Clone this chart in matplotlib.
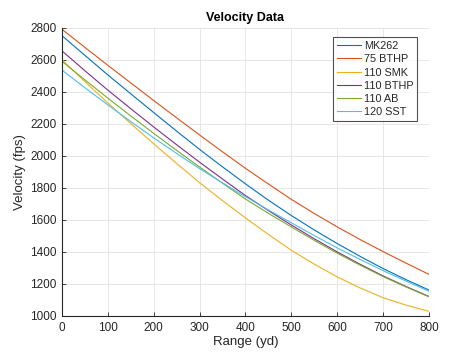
import matplotlib
matplotlib.use("Agg")
import matplotlib.pyplot as plt

plt.rcParams['font.family'] = ['Liberation Sans', 'DejaVu Sans']

range_yd = [0, 50, 100, 150, 200, 250, 300, 350, 400, 450, 500, 550, 600, 650, 700, 750, 800]

mk262 = [2750, 2627, 2505, 2387, 2270, 2154, 2040, 1931, 1825, 1723, 1627, 1537, 1452, 1372, 1296, 1227, 1162]
bthp75 = [2790, 2677, 2565, 2455, 2345, 2237, 2130, 2025, 1922, 1824, 1728, 1640, 1556, 1477, 1402, 1330, 1260]
smk110 = [2600, 2463, 2330, 2201, 2075, 1952, 1832, 1720, 1612, 1509, 1410, 1324, 1244, 1175, 1114, 1068, 1029]
bthp110 = [2655, 2531, 2410, 2294, 2180, 2069, 1960, 1855, 1752, 1658, 1568, 1482, 1400, 1323, 1250, 1184, 1122]
ab110 = [2590, 2474, 2360, 2249, 2140, 2034, 1930, 1829, 1730, 1641, 1556, 1472, 1392, 1317, 1246, 1181, 1120]
sst120 = [2535, 2425, 2318, 2214, 2112, 2015, 1920, 1831, 1745, 1662, 1582, 1502, 1425, 1353, 1283, 1218, 1155]

labels = ['MK262', '75 BTHP', '110 SMK', '110 BTHP', '110 AB', '120 SST']
colors = ['#0072BD', '#D95319', '#EDB120', '#7E2F8E', '#77AC30', '#4DBEEE']
series = [mk262, bthp75, smk110, bthp110, ab110, sst120]

x_ticks = [0, 100, 200, 300, 400, 500, 600, 700, 800]
y_ticks = [1000, 1200, 1400, 1600, 1800, 2000, 2200, 2400, 2600, 2800]

fig = plt.figure(figsize=(4.74, 3.55), dpi=100)
ax = fig.add_axes([62/474, 1 - 316/355, (429-62)/474, (316-27.7)/355])

for ys, c, lab in zip(series, colors, labels):
    ax.plot(range_yd, ys, color=c, lw=0.8, label=lab)

ax.set_xlim(0, 800)
ax.set_ylim(1000, 2800)
ax.set_xticks(x_ticks)
ax.set_yticks(y_ticks)
ax.grid(True, color='#e3e3e3', lw=0.6)
ax.set_axisbelow(True)
for s in ['top', 'right']:
    ax.spines[s].set_visible(False)
for s in ['left', 'bottom']:
    ax.spines[s].set_color('#262626')
    ax.spines[s].set_linewidth(0.8)
ax.tick_params(direction='in', length=3, width=0.6, colors='#262626', labelsize=8.5, pad=4)

ax.set_title('Velocity Data', fontsize=9, fontweight='bold', color='#000000', pad=5)
ax.set_xlabel('Range (yd)', fontsize=9.5, color='#262626', labelpad=2)
ax.set_ylabel('Velocity (fps)', fontsize=9.5, color='#262626', labelpad=3)

leg = ax.legend(loc='upper right', bbox_to_anchor=(0.968, 0.967), borderaxespad=0,
                fontsize=7.8, handlelength=2.2, handletextpad=0.3, labelspacing=0.3,
                borderpad=0.35, frameon=True, fancybox=False)
leg.get_frame().set_edgecolor('#262626')
leg.get_frame().set_linewidth(0.8)
for t in leg.get_texts():
    t.set_color('#262626')

fig.savefig('out.png', dpi=100, facecolor='white')
